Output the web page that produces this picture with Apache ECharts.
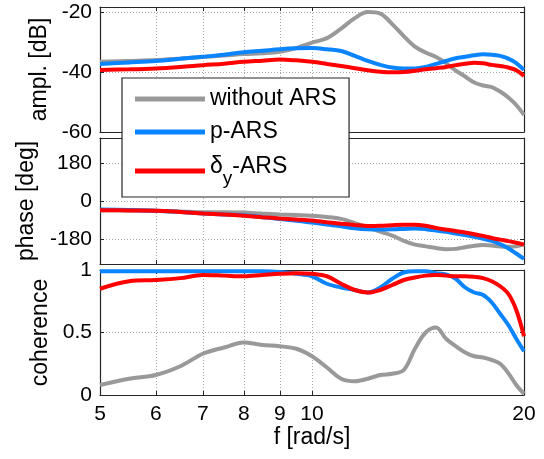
<!DOCTYPE html>
<html>
<head>
<meta charset="utf-8">
<script src="https://cdn.jsdelivr.net/npm/echarts@6/dist/echarts.min.js"></script>
<style>
  html, body { margin: 0; padding: 0; background: #fff; }
  #chart { width: 544px; height: 459px; }
</style>
</head>
<body>
<div id="chart"></div>
<script>
// Frequency grid [rad/s]
const freq = [5, 5.5, 6, 6.5, 7, 7.5, 8, 8.5, 9, 9.5, 10, 10.5, 11, 11.5, 12, 12.5,
              13, 13.5, 14, 14.5, 15, 15.5, 16, 16.5, 17, 17.5, 18, 18.5, 19, 19.5, 20];

// Amplitude [dB]
const amplWithout = [-36.6, -36.3, -36.0, -35.5, -35.0, -34.5, -34.0, -33.7, -33.2, -32.0, -30.2,
                     -28.7, -25.5, -22.0, -20.0, -20.5, -24.0, -28.0, -31.5, -33.5, -35.0, -37.0,
                     -39.5, -41.5, -43.5, -44.5, -45.0, -46.5, -48.5, -51.0, -54.3];
const amplP = [-37.3, -36.8, -36.3, -35.6, -34.9, -34.2, -33.4, -32.9, -32.4, -32.1, -32.0,
               -32.4, -33.0, -34.6, -36.3, -37.6, -38.5, -38.8, -38.8, -38.3, -37.3, -36.3,
               -35.4, -34.9, -34.4, -34.1, -34.2, -34.6, -35.5, -37.0, -39.3];
const amplDy = [-39.3, -39.1, -38.8, -38.3, -37.7, -37.2, -36.6, -36.2, -35.8, -36.1, -36.6,
                -37.3, -38.0, -38.7, -39.4, -39.9, -40.1, -40.0, -39.6, -39.1, -38.7, -38.3,
                -37.7, -37.2, -36.9, -37.1, -37.6, -38.0, -38.5, -39.4, -41.3];

// Phase [deg]
const phaseWithout = [-44, -45, -46, -50, -54, -54, -55, -60, -64, -67, -70, -76, -85, -105, -125,
                      -146, -165, -190, -208, -216, -224, -230, -228, -220, -213, -210, -212,
                      -217, -218, -216, -205];
const phaseP = [-40, -43, -46, -52, -59, -64, -68, -77, -86, -94, -103, -112, -120, -130, -135,
                -136, -135, -133, -131, -134, -140, -147, -155, -162, -170, -180, -190, -205,
                -225, -250, -276];
const phaseDy = [-44, -45, -46, -52, -59, -64, -70, -77, -83, -88, -93, -101, -108, -114, -119,
                 -118, -115, -113, -113, -118, -128, -136, -143, -150, -158, -166, -176, -184,
                 -191, -199, -208];

// Coherence [-]
const cohWithout = [0.08, 0.13, 0.16, 0.23, 0.33, 0.38, 0.42, 0.40, 0.39, 0.37, 0.31, 0.22, 0.13,
                    0.11, 0.13, 0.16, 0.17, 0.20, 0.37, 0.50, 0.54, 0.45, 0.39, 0.34, 0.31, 0.30,
                    0.28, 0.25, 0.175, 0.08, 0.01];
const cohP = [0.99, 0.99, 0.99, 0.99, 0.99, 0.99, 0.99, 0.99, 0.985, 0.97, 0.95, 0.89, 0.86, 0.84,
              0.82, 0.86, 0.93, 0.98, 0.99, 0.99, 0.975, 0.965, 0.93, 0.86, 0.82, 0.80, 0.74,
              0.65, 0.56, 0.45, 0.35];
const cohDy = [0.85, 0.91, 0.92, 0.935, 0.96, 0.955, 0.95, 0.96, 0.97, 0.975, 0.97, 0.95, 0.89,
               0.84, 0.82, 0.84, 0.88, 0.92, 0.94, 0.955, 0.96, 0.955, 0.95, 0.95, 0.945, 0.935,
               0.91, 0.87, 0.81, 0.68, 0.47];

// Tick values
const freqTicks = [5, 6, 7, 8, 9, 10, 20];
const amplTicks = [-60, -40, -20];
const phaseTicks = [-180, 0, 180];
const cohTicks = [0, 0.5, 1];

const seriesNames = ['without ARS', 'p-ARS', 'δy-ARS'];
const seriesColors = ['#999999', '#0a84ff', '#ff0000'];

const FONT = 'Liberation Sans, Arial, Helvetica, sans-serif';
const AXIS_COLOR = '#262626';

const panels = [
  { top: 7,   height: 125, min: -60,  max: -18.3, ticks: amplTicks,  name: 'ampl. [dB]',  nameGap: 46,
    data: [amplWithout, amplP, amplDy] },
  { top: 138, height: 126, min: -300, max: 300,   ticks: phaseTicks, name: 'phase [deg]', nameGap: 62,
    data: [phaseWithout, phaseP, phaseDy] },
  { top: 270, height: 125, min: 0,    max: 1,     ticks: cohTicks,   name: 'coherence',   nameGap: 46,
    data: [cohWithout, cohP, cohDy] }
];

const grid = [], xAxis = [], yAxis = [], series = [];

panels.forEach(function (p, i) {
  grid.push({ left: 100, width: 424, top: p.top, height: p.height });
  const isBottom = i === panels.length - 1;

  // bottom and top frequency axes (the top one only closes the box)
  ['bottom', 'top'].forEach(function (pos) {
    xAxis.push({
      type: 'log', logBase: 10, gridIndex: i, min: 5, max: 20, position: pos,
      name: (pos === 'bottom' && isBottom) ? 'f [rad/s]' : '',
      nameLocation: 'middle', nameGap: 31,
      nameTextStyle: { fontSize: 23, color: '#000', fontFamily: FONT },
      axisLine: { show: true, onZero: false, lineStyle: { color: AXIS_COLOR, width: 1.2 } },
      axisTick: { show: true, inside: true, length: 4, customValues: freqTicks,
                  lineStyle: { color: AXIS_COLOR, width: 1 } },
      axisLabel: { show: pos === 'bottom' && isBottom, customValues: freqTicks, margin: 9,
                   fontSize: 21, color: '#000', fontFamily: FONT },
      splitLine: { show: pos === 'bottom', lineStyle: { type: [1, 2], color: '#a8a8a8', width: 1 } },
      minorTick: { show: false }, minorSplitLine: { show: false }
    });
  });

  ['left', 'right'].forEach(function (pos) {
    yAxis.push({
      type: 'value', gridIndex: i, min: p.min, max: p.max, position: pos,
      name: pos === 'left' ? p.name : '',
      nameLocation: 'middle', nameGap: p.nameGap, nameRotate: 90,
      nameTextStyle: { fontSize: 23, color: '#000', fontFamily: FONT },
      axisLine: { show: true, onZero: false, lineStyle: { color: AXIS_COLOR, width: 1.2 } },
      axisTick: { show: true, inside: true, length: 4, customValues: p.ticks,
                  lineStyle: { color: AXIS_COLOR, width: 1 } },
      axisLabel: { show: pos === 'left', customValues: p.ticks, margin: 8,
                   fontSize: 21, color: '#000', fontFamily: FONT },
      splitLine: { show: pos === 'left', lineStyle: { type: [1, 2], color: '#a8a8a8', width: 1 } }
    });
  });

  p.data.forEach(function (vals, k) {
    series.push({
      type: 'line',
      name: seriesNames[k],
      xAxisIndex: i * 2,
      yAxisIndex: i * 2,
      data: freq.map(function (f, j) { return [f, vals[j]]; }),
      showSymbol: false,
      symbol: 'none',
      smooth: 0.35,
      lineStyle: { color: seriesColors[k], width: 4 },
      itemStyle: { color: seriesColors[k] },
      z: 2 + k
    });
  });
});

// Legend labels, with the subscript in the last entry
const legendParts = { 'δy-ARS': ['δ', 'y', '-ARS'] };

const chart = echarts.init(document.getElementById('chart'), null, { renderer: 'canvas' });
chart.setOption({
  animation: false,
  backgroundColor: '#fff',
  textStyle: { fontFamily: FONT },
  grid: grid,
  xAxis: xAxis,
  yAxis: yAxis,
  legend: {
    data: seriesNames,
    orient: 'vertical',
    left: 122, top: 78,
    padding: [9.5, 12.5, 8.5, 13],
    itemWidth: 70, itemHeight: 5, itemGap: 10,
    icon: 'rect',
    backgroundColor: '#fff',
    borderColor: AXIS_COLOR, borderWidth: 1.2, borderRadius: 0,
    z: 10,
    formatter: function (name) {
      const parts = legendParts[name];
      if (parts) return '{b|' + parts[0] + '}{s|' + parts[1] + '}{b|' + parts[2] + '}';
      return '{a|' + name + '}';
    },
    textStyle: {
      color: '#000', fontFamily: FONT, fontSize: 23,
      rich: {
        a: { fontSize: 23, lineHeight: 23, color: '#000', fontFamily: FONT },
        b: { fontSize: 23, lineHeight: 35, color: '#000', fontFamily: FONT,
             verticalAlign: 'top', padding: [2, 0, 0, 0] },
        s: { fontSize: 19, lineHeight: 35, color: '#000', fontFamily: FONT,
             verticalAlign: 'bottom' }
      }
    }
  },
  series: series
});
</script>
</body>
</html>
